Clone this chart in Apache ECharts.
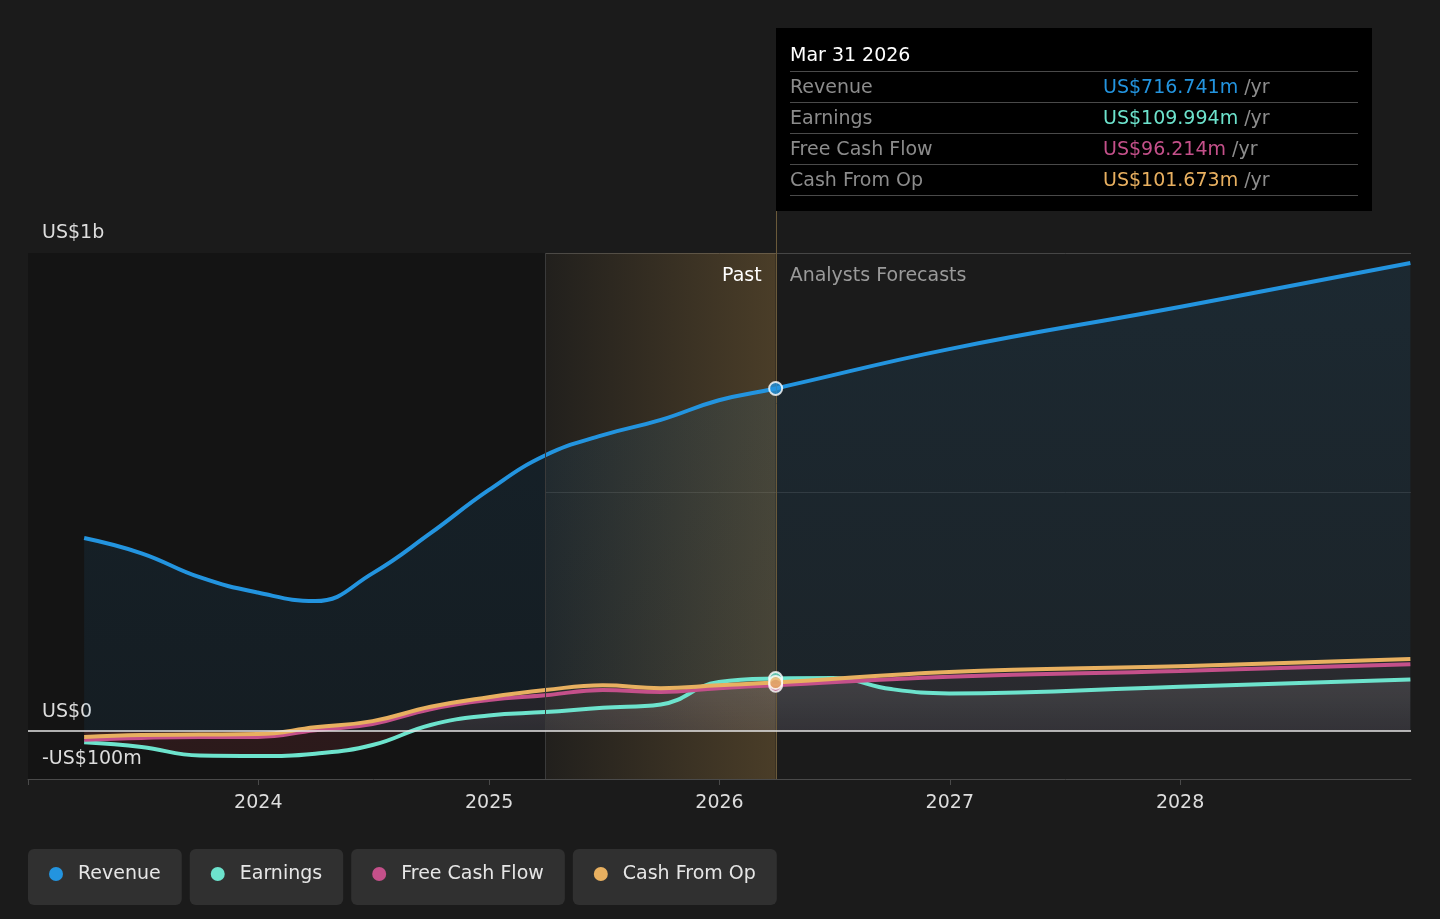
<!DOCTYPE html>
<html>
<head>
<meta charset="utf-8">
<title>Revenue, earnings and cash flow</title>
<script src="https://cdn.jsdelivr.net/npm/echarts@6.0.0/dist/echarts.min.js"></script>
<style>
  html, body { margin: 0; padding: 0; background: #1b1b1b; }
  #chart { width: 1440px; height: 919px; }
</style>
</head>
<body>
<div id="chart"></div>
<script>
// =========================
// DATA (US$ m)
// =========================
var pastDates = ['2023-03-31', '2023-06-30', '2023-09-30', '2023-12-31', '2024-03-31', '2024-06-30',
  '2024-09-30', '2024-12-31', '2025-03-31', '2025-06-30', '2025-09-30', '2025-12-31', '2026-03-31'];
var revenuePast = [404, 372, 322, 290, 272, 330, 414, 504, 577, 619, 651, 692, 716.741];
var earningsPast = [-23, -33, -51, -52, -47, -29, 13, 33, 40, 49, 56, 103, 109.994];
var fcfPast = [-18, -14, -12, -12, 2, 15, 46, 65, 75, 86, 82, 90, 96.214];
var cfoPast = [-12, -8, -7, -6, 8, 21, 51, 71, 86, 96, 90, 96, 101.673];

var forecastDates = ['2026-12-31', '2027-12-31', '2028-12-31'];
var revenueForecast = [799, 887, 979];
var fcfForecast = [114, 126, 140];
var cfoForecast = [124, 136, 151];

var earningsForecastDates = ['2026-06-30', '2026-09-30', '2026-12-31', '2027-12-31', '2028-12-31'];
var earningsForecast = [111, 88, 79, 93, 108];

var seriesNames = ['Revenue', 'Earnings', 'Free Cash Flow', 'Cash From Op'];
var seriesColors = ['#2394df', '#6de3cd', '#c4508a', '#e8b060'];

var xLabelYears = [2024, 2025, 2026, 2027, 2028];
var yLabelValues = [-100, 0, 1000];
var yLabelTexts = ['-US$100m', 'US$0', 'US$1b'];
var yGridValues = [500, 1000];

var xMin = '2023-01-01';
var xMax = '2029-01-01';
var pastStart = '2025-03-31';
var pastEnd = pastDates[pastDates.length - 1];
var months = ['Jan', 'Feb', 'Mar', 'Apr', 'May', 'Jun', 'Jul', 'Aug', 'Sep', 'Oct', 'Nov', 'Dec'];

var tipTop = 28;

function pairs(dates, values) {
  return dates.map(function(d, i) { return [d, values[i]]; });
}

function fmtDate(s) {
  var p = s.split('-');
  return months[parseInt(p[1], 10) - 1] + ' ' + p[2] + ' ' + p[0];
}

function money(v) {
  return 'US$' + v.toFixed(3) + 'm';
}

var revenueData = pairs(pastDates, revenuePast).concat(pairs(forecastDates, revenueForecast));
var earningsData = pairs(pastDates, earningsPast).concat(pairs(earningsForecastDates, earningsForecast));
var fcfData = pairs(pastDates, fcfPast).concat(pairs(forecastDates, fcfForecast));
var cfoData = pairs(pastDates, cfoPast).concat(pairs(forecastDates, cfoForecast));

var lastIdx = pastDates.length - 1;
var pastLast = [revenuePast[lastIdx], earningsPast[lastIdx], fcfPast[lastIdx], cfoPast[lastIdx]];

// earnings area: grey above zero, dark red below
var eAll = earningsPast.concat(earningsForecast);
var eMax = Math.max.apply(null, eAll);
var eMin = Math.min.apply(null, eAll);
var zeroFrac = eMax / (eMax - eMin);

// y split lines: only 500 and 1000 visible
var splitColors = [];
for (var v = -100; v <= 1000; v += 100) {
  if (yGridValues.indexOf(v) < 0) splitColors.push('rgba(0,0,0,0)');
  else splitColors.push(v === 1000 ? '#464646' : '#333333');
}

var G = echarts.graphic;

function lineSeries(i, data, area) {
  return {
    name: seriesNames[i],
    type: 'line',
    data: data,
    smooth: 0.45,
    symbol: 'none',
    z: 2,
    lineStyle: { width: 4, color: seriesColors[i] },
    itemStyle: { color: seriesColors[i] },
    areaStyle: area,
    emphasis: { disabled: true }
  };
}

var chart = echarts.init(document.getElementById('chart'));

var option = {
  animation: false,
  backgroundColor: '#1b1b1b',
  textStyle: { fontFamily: 'DejaVu Sans' },
  grid: { left: 28, right: 29, top: 253, bottom: 140, containLabel: false },
  xAxis: {
    type: 'time',
    min: xMin,
    max: xMax,
    z: 1,
    axisLine: { onZero: false, lineStyle: { color: '#4a4a4a', width: 1 } },
    axisTick: { show: true, length: 6, lineStyle: { color: '#4a4a4a' } },
    splitLine: { show: false },
    axisLabel: {
      color: '#dddddd',
      fontSize: 19,
      margin: 15,
      formatter: function(value) {
        var y = new Date(value).getFullYear();
        return xLabelYears.indexOf(y) >= 0 ? String(y) : '';
      }
    }
  },
  yAxis: {
    type: 'value',
    min: -100,
    max: 1000,
    interval: 100,
    z: 1,
    axisLine: { show: false },
    axisTick: { show: false },
    splitLine: { show: true, lineStyle: { color: splitColors, width: 1 } },
    axisLabel: {
      inside: true,
      margin: 14,
      color: '#dddddd',
      fontSize: 19,
      verticalAlign: 'bottom',
      padding: [0, 0, 10, 0],
      formatter: function(value) {
        var k = yLabelValues.indexOf(value);
        return k >= 0 ? yLabelTexts[k] : '';
      }
    }
  },
  legend: {
    data: seriesNames,
    left: 23,
    top: 849,
    padding: 0,
    itemGap: 3,
    itemWidth: 0,
    itemHeight: 0,
    icon: 'none',
    selectedMode: false,
    formatter: function(name) {
      return '{d' + seriesNames.indexOf(name) + '| }{t|' + name + '}';
    },
    textStyle: {
      color: '#e6e6e6',
      fontSize: 19,
      backgroundColor: '#303030',
      borderRadius: 6,
      padding: [15, 21, 21, 21],
      rich: {
        d0: { width: 14, height: 14, borderRadius: 7, backgroundColor: seriesColors[0] },
        d1: { width: 14, height: 14, borderRadius: 7, backgroundColor: seriesColors[1] },
        d2: { width: 14, height: 14, borderRadius: 7, backgroundColor: seriesColors[2] },
        d3: { width: 14, height: 14, borderRadius: 7, backgroundColor: seriesColors[3] },
        t: { color: '#e6e6e6', fontSize: 19, lineHeight: 20, padding: [0, 0, 0, 15] }
      }
    }
  },
  tooltip: {
    trigger: 'axis',
    triggerOn: 'none',
    alwaysShowContent: true,
    axisPointer: { type: 'none' },
    backgroundColor: '#000000',
    borderWidth: 0,
    padding: 0,
    transitionDuration: 0,
    extraCssText: 'box-shadow:none;border-radius:0;',
    position: function(point) {
      return [point[0], tipTop];
    },
    formatter: function() {
      var vals = pastLast;
      var html = '<div style="padding:12px 14px 15px 14px;width:568px;font-family:\'DejaVu Sans\';font-size:19px;">';
      html += '<div style="height:31px;line-height:29px;color:#ffffff;border-bottom:1px solid #4a4a4a;">' + fmtDate(pastEnd) + '</div>';
      for (var i = 0; i < seriesNames.length; i++) {
        html += '<div style="display:flex;height:30px;line-height:28px;border-bottom:1px solid #4a4a4a;color:#8c8c8c;">' +
          '<span style="width:313px;">' + seriesNames[i] + '</span>' +
          '<span><span style="color:' + seriesColors[i] + ';">' + money(vals[i]) + '</span> /yr</span></div>';
      }
      return html + '</div>';
    }
  },
  series: [
    lineSeries(0, revenueData, {
      color: new G.LinearGradient(0, 0, 0, 1, [
        { offset: 0, color: 'rgba(35,148,223,0.16)' },
        { offset: 1, color: 'rgba(35,148,223,0.10)' }
      ])
    }),
    lineSeries(1, earningsData, {
      color: new G.LinearGradient(0, 0, 0, 1, [
        { offset: 0, color: 'rgba(255,255,255,0.16)' },
        { offset: zeroFrac, color: 'rgba(255,255,255,0.06)' },
        { offset: zeroFrac, color: 'rgba(190,60,70,0.2)' },
        { offset: 1, color: 'rgba(190,60,70,0.2)' }
      ])
    }),
    lineSeries(2, fcfData, { color: 'rgba(196,80,138,0.07)' }),
    lineSeries(3, cfoData, { color: 'rgba(232,176,96,0.05)' }),
    {
      // darker past background
      name: 'pastBg',
      type: 'line',
      data: [],
      z: 0,
      silent: true,
      markArea: {
        silent: true,
        itemStyle: { color: '#141414' },
        data: [[{ xAxis: xMin }, { xAxis: pastStart }]]
      }
    },
    {
      // last-year highlight drawn over the lines
      name: 'pastHighlight',
      type: 'line',
      data: [],
      z: 3,
      silent: true,
      markArea: {
        silent: true,
        data: [
          [{
            xAxis: pastStart,
            itemStyle: {
              color: new G.LinearGradient(0, 0, 1, 0, [
                { offset: 0, color: 'rgba(190,145,72,0.04)' },
                { offset: 1, color: 'rgba(190,145,72,0.29)' }
              ])
            },
            label: {
              show: true, position: 'insideTopRight', distance: 0, formatter: 'Past',
              color: '#ffffff', fontSize: 19, padding: [14, 14, 0, 0]
            }
          }, { xAxis: pastEnd }],
          [{
            xAxis: pastEnd,
            itemStyle: { color: 'rgba(0,0,0,0)' },
            label: {
              show: true, position: 'insideTopLeft', distance: 0, formatter: 'Analysts Forecasts',
              color: '#9a9a9a', fontSize: 19, padding: [14, 0, 0, 14]
            }
          }, { xAxis: xMax }]
        ]
      },
      markLine: {
        silent: true,
        symbol: 'none',
        label: { show: false },
        lineStyle: { color: '#3a3a3a', width: 1, type: 'solid' },
        data: [{ xAxis: pastStart }]
      }
    },
    {
      name: 'points',
      type: 'scatter',
      z: 5,
      silent: true,
      symbolSize: 13,
      emphasis: { disabled: true },
      data: pastLast.map(function(v, i) {
        return {
          value: [pastEnd, v],
          itemStyle: { color: seriesColors[i], borderColor: '#ffffff', borderWidth: 2 }
        };
      }),
      markLine: {
        silent: true,
        symbol: 'none',
        label: { show: false },
        lineStyle: { color: '#e4e4e4', width: 1.5, type: 'solid' },
        data: [{ yAxis: 0 }]
      }
    }
  ]
};

chart.setOption(option);

// boundary line between past and forecasts, up to the tooltip
var pTop = chart.convertToPixel({ gridIndex: 0 }, [pastEnd, 1000]);
var pBot = chart.convertToPixel({ gridIndex: 0 }, [pastEnd, -100]);
chart.setOption({
  graphic: [{
    type: 'line',
    z: 4,
    silent: true,
    shape: { x1: Math.round(pTop[0]) + 0.5, y1: tipTop, x2: Math.round(pTop[0]) + 0.5, y2: pBot[1] },
    style: { stroke: '#6b5a3a', lineWidth: 1 }
  }]
});

chart.dispatchAction({ type: 'showTip', seriesIndex: 0, dataIndex: lastIdx });
</script>
</body>
</html>
